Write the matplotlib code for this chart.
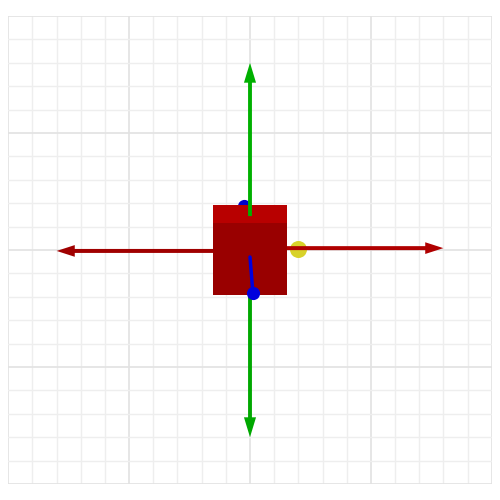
import numpy as np
import matplotlib.pyplot as plt
from matplotlib.patches import Rectangle

# scene data (grid units)
grid_lim = 10
x_axis = [-8.0, 8.0]          # red arrow tips
x_axis_y = [-0.04, 0.08]
y_axis = [-8.0, 8.0]          # green arrow tips
green_break = 1.45            # where the green shaft disappears behind the cube
cube_x = [-1.53, 1.53]
cube_front_y = [-1.92, 1.15]
cube_top_y = [1.15, 1.92]
blue_line_x = [0.0, 0.12]
blue_line_y = [-0.3, -1.84]
blue_top_dot = (-0.25, 1.9)
yellow_dot = (1.99, 0.04)

fig = plt.figure(figsize=(5, 5), dpi=100)
ax = fig.add_axes([0.0166, 0.032, 0.9668, 0.936])
ax.set_xlim(-grid_lim, grid_lim)
ax.set_ylim(-grid_lim, grid_lim)

### grid
ax.set_xticks(np.arange(-10, 11, 5))
ax.set_yticks(np.arange(-10, 11, 5))
ax.set_xticks(np.arange(-10, 11, 1), minor=True)
ax.set_yticks(np.arange(-10, 11, 1), minor=True)
ax.grid(True, which='minor', color='#eeeeee', lw=1.0, zorder=0)
ax.grid(True, which='major', color='#e2e2e2', lw=1.2, zorder=0)
ax.tick_params(which='both', length=0, labelbottom=False, labelleft=False)
for s in ax.spines.values():
    s.set_visible(False)
ax.set_axisbelow(True)

### yellow dot behind red axis
ax.scatter([yellow_dot[0]], [yellow_dot[1]], s=150, color='#d8d22a', zorder=2, lw=0)

### red x axis (both directions)
ax.arrow(0, x_axis_y[0], x_axis[0], 0, width=0.17, head_width=0.5, head_length=0.75,
         length_includes_head=True, color='#a00000', zorder=3, lw=0)
ax.arrow(0, x_axis_y[1], x_axis[1], 0, width=0.17, head_width=0.5, head_length=0.75,
         length_includes_head=True, color='#b00000', zorder=3, lw=0)

### blue dot behind cube
ax.scatter([blue_top_dot[0]], [blue_top_dot[1]], s=90, color='#0000cc', zorder=3.5, lw=0)

### green y axis, lower part behind cube
ax.arrow(0, 0, 0, y_axis[0], width=0.16, head_width=0.5, head_length=0.85,
         length_includes_head=True, color='#00a800', zorder=4, lw=0)

### cube
ax.add_patch(Rectangle((cube_x[0], cube_front_y[0]), cube_x[1] - cube_x[0],
                       cube_front_y[1] - cube_front_y[0], color='#990000', zorder=5, lw=0))
ax.add_patch(Rectangle((cube_x[0], cube_top_y[0]), cube_x[1] - cube_x[0],
                       cube_top_y[1] - cube_top_y[0], color='#b80000', zorder=5, lw=0))

### green y axis, upper part in front of cube top
ax.arrow(0, green_break, 0, y_axis[1] - green_break, width=0.16, head_width=0.5,
         head_length=0.85, length_includes_head=True, color='#00b000', zorder=6, lw=0)

### blue line with dot
ax.plot(blue_line_x, blue_line_y, color='#0000dd', lw=2.5, zorder=7, solid_capstyle='round')
ax.scatter([blue_line_x[1]], [blue_line_y[1]], s=90, color='#0000dd', zorder=8, lw=0)

fig.savefig('out.png', dpi=100, facecolor='white')
